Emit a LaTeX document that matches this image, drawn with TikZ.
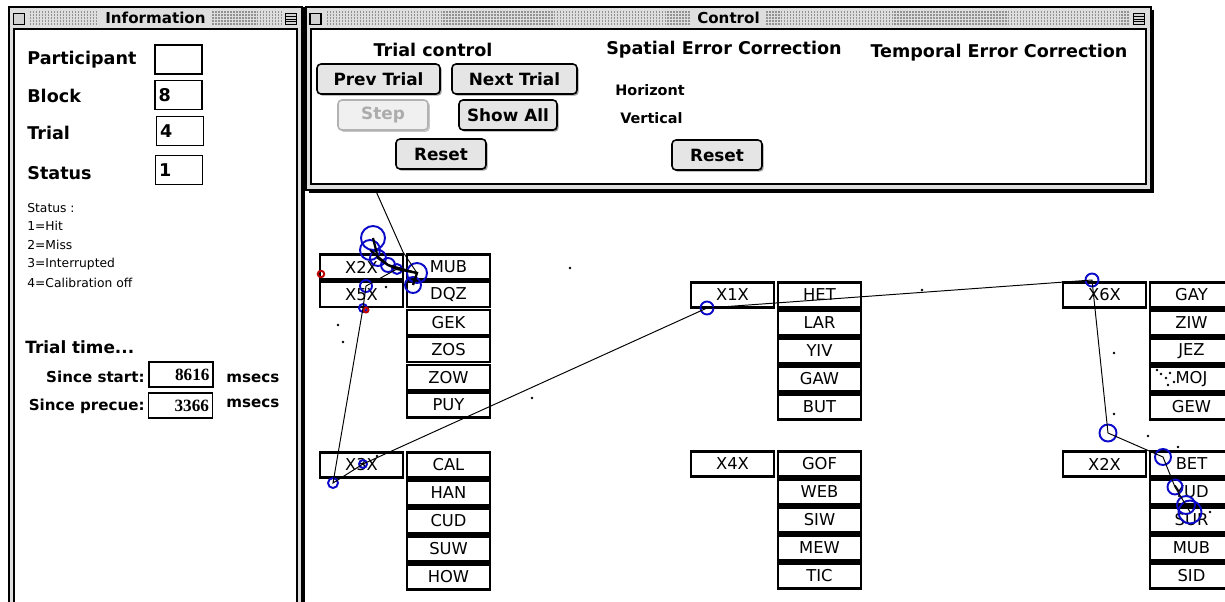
\documentclass[tikz,border=0pt]{standalone}
\usepackage{fontspec}
\setmainfont{DejaVu Sans}
\newfontfamily\numfont{Liberation Serif}
\usetikzlibrary{positioning,shadows}

\definecolor{fixblue}{RGB}{10,10,200}
\definecolor{barfill}{gray}{0.87}

\tikzset{
  titlebar/.style={fill=barfill, draw, line width=0.7pt},
  stripe/.style={gray!45!black!55, line width=0.9pt, dash pattern=on 0.85pt off 0.85pt},
  wintitle/.style={fill=barfill, inner xsep=0.12cm, inner ysep=0.05cm, font=\bfseries\fontsize{8.6}{9}\selectfont},
  wingadget/.style={draw, fill=gray!35, line width=0.6pt, minimum size=0.22cm, inner sep=0pt},
  lab/.style={font=\bfseries\fontsize{10}{12}\selectfont, inner sep=0pt},
  sublab/.style={font=\bfseries\fontsize{8.2}{10}\selectfont, inner sep=0pt},
  timelab/.style={font=\bfseries\fontsize{8.6}{10}\selectfont, inner sep=0pt},
  note/.style={font=\fontsize{7}{8}\selectfont, inner sep=0pt, anchor=west},
  field/.style={draw, line width=0.8pt, minimum height=0.58cm, text width=0.8cm, inner xsep=0.07cm, align=left, font=\bfseries\fontsize{10}{12}\selectfont},
  timefield/.style={field, text width=1.14cm, minimum height=0.5cm, align=right, font=\numfont\bfseries\fontsize{9.8}{10}\selectfont},
  button/.style={draw, line width=0.9pt, rounded corners=0.08cm, fill=gray!20, minimum height=0.6cm, inner sep=0pt,
                 font=\bfseries\fontsize{9.6}{12}\selectfont,
                 drop shadow={shadow xshift=0.035cm, shadow yshift=-0.035cm, fill=gray!75, opacity=1}},
  word/.style={draw, line width=1.3pt, minimum width=1.66cm, minimum height=0.5cm, inner sep=0pt, font=\fontsize{9.3}{10}\selectfont},
  fix/.style={circle, draw=fixblue, line width=1.1pt, inner sep=0pt, minimum size=#1},
  gaze/.style={line width=0.55pt},
}

\begin{document}
\begin{tikzpicture}[x=0.02cm, y=-0.02cm]
    \clip (0,0) rectangle (1225,602);
    \fill[white] (0,0) rectangle (1225,602);

    % Word groups on the display
    \foreach \gx/\gy/\st/\labs/\words [count=\g] in {
        361.5/267/27.6/{X2X,X5X}/{MUB,DQZ,GEK,ZOS,ZOW,PUY},
        361.5/465/28/{X3X}/{CAL,HAN,CUD,SUW,HOW},
        732.5/295/28/{X1X}/{HET,LAR,YIV,GAW,BUT},
        732.5/464/28/{X4X}/{GOF,WEB,SIW,MEW,TIC},
        1104.5/295/28/{X6X}/{GAY,ZIW,JEZ,MOJ,GEW},
        1104.5/464/28/{X2X}/{BET,YUD,SUR,MUB,SID}} {
        \foreach \l [count=\i from 0] in \labs
            \node[word] (x\g-\i) at (\gx,{\gy+\i*\st}) {\l};
        \foreach \w [count=\i from 0] in \words
            \node[word] (w\g-\i) at ({\gx+87},{\gy+\i*\st}) {\w};
    }

    % Fixations
    \node[fix=0.48cm] (fa) at (373,238) {};
    \node[fix=0.40cm] (fb) at (370,250) {};
    \node[fix=0.32cm] (fc) at (378,258) {};
    \node[fix=0.28cm] (fd) at (388,265) {};
    \node[fix=0.20cm] (fe) at (397,269) {};
    \node[fix=0.40cm] (ff) at (417,273) {};
    \node[fix=0.32cm] (fg) at (413,285) {};
    \node[fix=0.24cm] (fh) at (366,286) {};
    \node[fix=0.16cm] (fi) at (363,308) {};
    \node[fix=0.20cm] (fj) at (333,483) {};
    \node[fix=0.16cm] (fk) at (363,464) {};
    \node[fix=0.26cm] (fl) at (707,308) {};
    \node[fix=0.26cm] (fm) at (1092,280) {};
    \node[fix=0.34cm] (fn) at (1108,433) {};
    \node[fix=0.32cm] (fo) at (1163,457) {};
    \node[fix=0.30cm] (fp) at (1175,487) {};
    \node[fix=0.46cm] (fq) at (1190,512) {};
    \node[fix=0.36cm] (fr) at (1186,505) {};
    \node[fix=0.13cm, draw=red!75!black] (ra) at (321,274) {};
    \node[fix=0.10cm, draw=red!75!black] (rb) at (366,310) {};

    % Gaze path
    \coordinate (g0) at (375,189);
    \coordinate (g1) at (403,252);
    \draw[gaze] (g0) -- (g1) -- (ff.center);
    \draw[gaze, line width=1.3pt] (fa.center) -- (fc.center) -- (fd.center) -- (fe.center) -- (ff.center) -- (fg.center);
    \draw[gaze, line width=1.1pt] (fb.center) -- (fd.center) -- (ff.center);
    \draw[gaze] (fh.center) -- (fe.center);
    \draw[gaze] (fh.center) -- (fi.center) -- (fj.center) -- (fk.center) -- (fl.center) -- (fm.center) -- (fn.center) -- (fo.center) -- (fp.center) -- (fq.center);

    % Loose samples
    \foreach \p in {(338,325),(343,342),(570,268),(532,398),(922,290),(1114,353),(1114,414),
                    (1148,436),(1178,447),(1210,512),(377,456),(386,287),
                    (1157,370),(1161,374),(1166,378),(1170,373),(1168,385),(1174,382)}
        \fill \p circle (0.028cm);

    % Control window
    \fill (309,10) rectangle (1154,193);
    \draw[titlebar] (306,7) rectangle (1151,190);
    \draw[fill=white, line width=0.7pt] (311,29) rectangle (1146,184);
    \foreach \s in {12,15,...,25}
        \draw[stripe] (327,\s) -- (1129,\s);
    \node[wintitle] (ctitle) at (728.5,18) {Control};
    \node[wingadget] (cclose) at (315.5,19) {};
    \node[wingadget] (czoom) at (1139,19) {};
    \draw[line width=0.5pt] (czoom.west) -- (czoom.east);
    \draw[line width=0.5pt] ([yshift=-0.07cm]czoom.north west) -- ([yshift=-0.07cm]czoom.north east);
    \draw[line width=0.5pt] ([yshift=0.07cm]czoom.south west) -- ([yshift=0.07cm]czoom.south east);

    \node[lab] (ttrial) at (433,50) {Trial control};
    \node[button, minimum width=2.46cm] (prev) at (378.5,79) {Prev Trial};
    \node[button, minimum width=2.5cm] (next) at (514.5,79) {Next Trial};
    \node[button, minimum width=1.8cm, draw=gray!60, text=gray!65, fill=gray!12,
          drop shadow={shadow xshift=0.03cm, shadow yshift=-0.03cm, fill=gray!35, opacity=1}] (stepbtn) at (383,115) {Step};
    \node[button, minimum width=1.96cm] (showall) at (508,115) {Show All};
    \node[button, minimum width=1.8cm] (reseta) at (441,154) {Reset};
    \node[lab] (tspat) at (724,50) {Spatial Error Correction};
    \node[sublab, anchor=west] (hor) at (615,90) {Horizont};
    \node[sublab, anchor=west] (ver) at (620,118) {Vertical};
    \node[button, minimum width=1.8cm] (resetb) at (717,155) {Reset};
    \node[lab] (ttemp) at (999,53) {Temporal Error Correction};

    % Information window
    \fill (302,7) rectangle (305,610);
    \draw[titlebar] (9,7) rectangle (302,620);
    \draw[fill=white, line width=0.7pt] (14,29) rectangle (297,620);
    \foreach \s in {12,15,...,25}
        \draw[stripe] (30,\s) -- (281,\s);
    \node[wintitle] (ititle) at (155.5,18) {Information};
    \node[wingadget] (iclose) at (19,19) {};
    \node[wingadget] (izoom) at (291,19) {};
    \draw[line width=0.5pt] (izoom.west) -- (izoom.east);
    \draw[line width=0.5pt] ([yshift=-0.07cm]izoom.north west) -- ([yshift=-0.07cm]izoom.north east);
    \draw[line width=0.5pt] ([yshift=0.07cm]izoom.south west) -- ([yshift=0.07cm]izoom.south east);

    \node[lab, anchor=west] (lpart) at (27,60) {Participant};
    \node[field] (fpart) at (178.5,59.5) {};
    \node[lab, anchor=west] (lblock) at (27,96) {Block};
    \node[field] (fblock) at (178.5,95) {8};
    \node[lab, anchor=west] (ltrial) at (27,133) {Trial};
    \node[field] (ftrial) at (180,131) {4};
    \node[lab, anchor=west] (lstatus) at (27,173) {Status};
    \node[field] (fstatus) at (179,170) {1};

    \node[note] (n0) at (27,208) {Status :};
    \node[note] (n1) at (27,226) {1=Hit};
    \node[note] (n2) at (27,245) {2=Miss};
    \node[note] (n3) at (27,264) {3=Interrupted};
    \node[note] (n4) at (27,283) {4=Calibration off};

    \node[lab, anchor=west, font=\bfseries\fontsize{9.6}{12}\selectfont] (ltime) at (25,347) {Trial time...};
    \node[timelab, anchor=east] (lstart) at (145,377) {Since start:};
    \node[timefield] (fstart) at (181,374.5) {8616};
    \node[timelab, anchor=west] (mstart) at (226,378) {msecs};
    \node[timelab, anchor=east] (lprecue) at (145,406) {Since precue:};
    \node[timefield] (fprecue) at (180.5,405.5) {3366};
    \node[timelab, anchor=west] (mprecue) at (226,403) {msecs};
\end{tikzpicture}
\end{document}
